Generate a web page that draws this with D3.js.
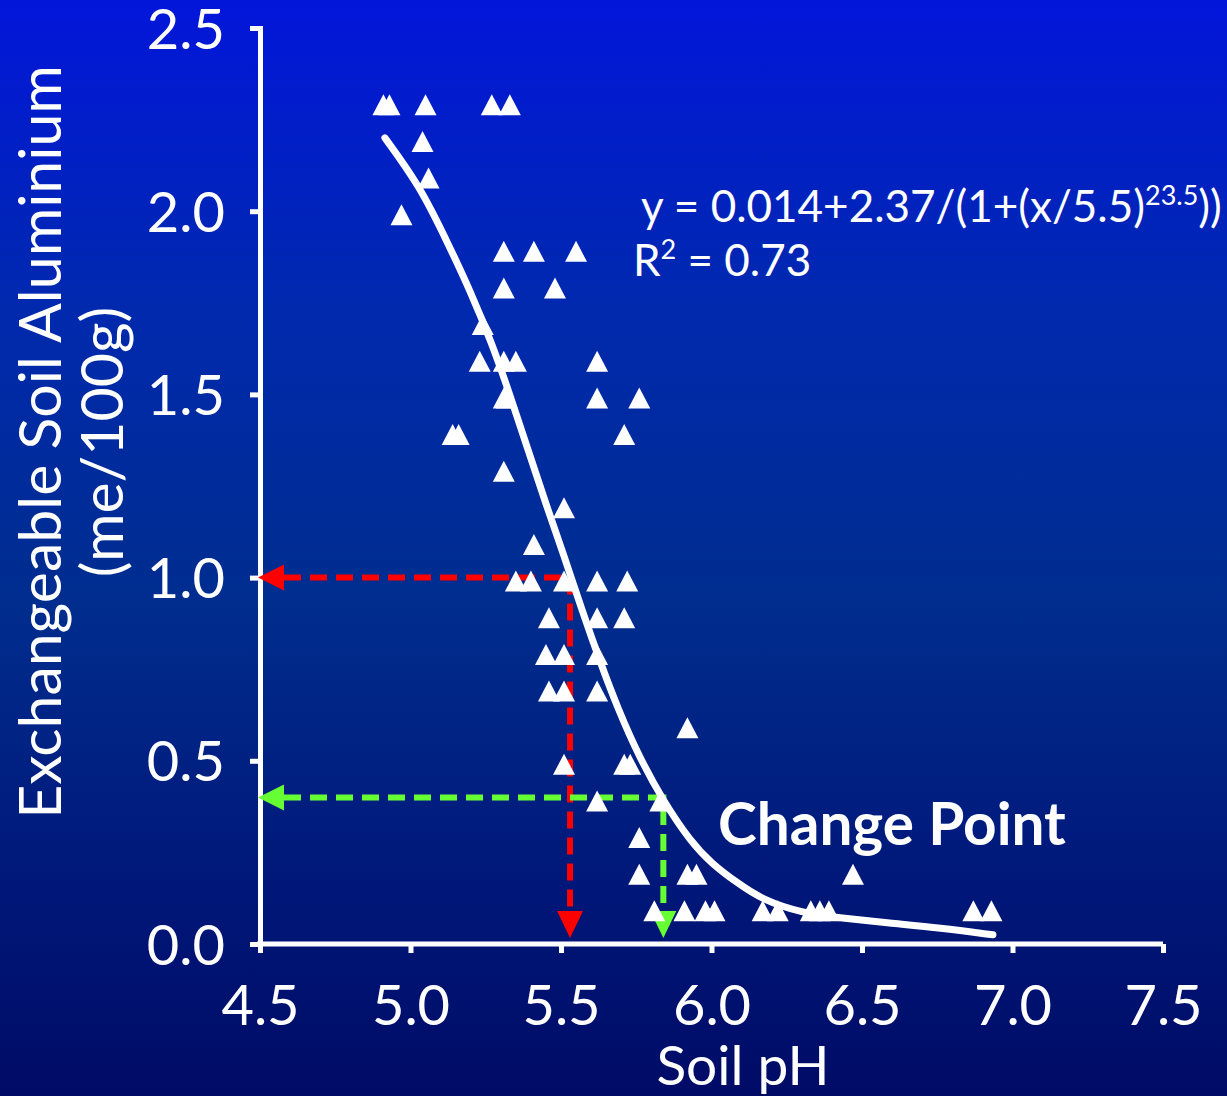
<!DOCTYPE html>
<html>
<head>
<meta charset="utf-8">
<script src="https://cdn.jsdelivr.net/npm/d3@7"></script>
<style>
  html, body { margin: 0; padding: 0; background: #001070; }
  svg { display: block; font-family: Lato, "Open Sans", sans-serif; }
</style>
</head>
<body>
<div id="graph"></div>
<script>
"use strict";

// measured points (soil pH vs exchangeable Al)
var soilPH = [
    4.91, 4.93, 5.05, 5.27, 5.33,
    5.04, 5.06, 4.97,
    5.31, 5.41, 5.55,
    5.31, 5.48,
    5.24,
    5.23, 5.31, 5.35, 5.62,
    5.31, 5.32, 5.62, 5.76,
    5.14, 5.16, 5.71,
    5.31, 5.51, 5.41,
    5.35, 5.40, 5.51, 5.62, 5.72,
    5.46, 5.62, 5.71,
    5.45, 5.51, 5.62,
    5.46, 5.51, 5.62,
    5.92,
    5.51, 5.71, 5.73,
    5.62, 5.83,
    5.76,
    5.76, 5.92, 5.95, 6.47,
    5.81, 5.91, 5.98, 6.01, 6.17, 6.22, 6.33, 6.36, 6.39, 6.87, 6.93
];
var soilAl = [
    2.3, 2.3, 2.3, 2.3, 2.3,
    2.2, 2.1, 2.0,
    1.9, 1.9, 1.9,
    1.8, 1.8,
    1.7,
    1.6, 1.6, 1.6, 1.6,
    1.5, 1.5, 1.5, 1.5,
    1.4, 1.4, 1.4,
    1.3, 1.2, 1.1,
    1.0, 1.0, 1.0, 1.0, 1.0,
    0.9, 0.9, 0.9,
    0.8, 0.8, 0.8,
    0.7, 0.7, 0.7,
    0.6,
    0.5, 0.5, 0.5,
    0.4, 0.4,
    0.3,
    0.2, 0.2, 0.2, 0.2,
    0.1, 0.1, 0.1, 0.1, 0.1, 0.1, 0.1, 0.1, 0.1, 0.1, 0.1
];

// fitted curve
var fitPH = [4.915, 5.03, 5.12, 5.20, 5.27, 5.33, 5.39, 5.45, 5.51, 5.57, 5.63, 5.69,
    5.76, 5.84, 5.93, 6.00, 6.08, 6.17, 6.30, 6.43, 6.59, 6.76, 6.935];
var fitAl = [2.20, 2.07, 1.92, 1.78, 1.64, 1.50, 1.35, 1.20, 1.06, 0.91, 0.77, 0.64,
    0.51, 0.39, 0.28, 0.22, 0.17, 0.12, 0.085, 0.071, 0.057, 0.044, 0.025];

var xTicks = [4.5, 5.0, 5.5, 6.0, 6.5, 7.0, 7.5];
var yTicks = [0.0, 0.5, 1.0, 1.5, 2.0, 2.5];

// reading guides: [pH, Al]
var redGuide = [5.53, 1.0];
var greenGuide = [5.84, 0.4];

var width = 1227, height = 1096;
var svg = d3.select("#graph").append("svg")
    .attr("width", width)
    .attr("height", height);

var defs = svg.append("defs");
var grad = defs.append("linearGradient")
    .attr("id", "bg")
    .attr("x1", 0).attr("y1", 0).attr("x2", 0).attr("y2", 1);
[[0, "#0216da"], [0.28, "#0029ae"], [0.55, "#002d8e"], [0.8, "#00187a"], [1, "#000b66"]]
    .forEach(function (s) {
        grad.append("stop").attr("offset", s[0]).attr("stop-color", s[1]);
    });

svg.append("rect")
    .attr("width", width)
    .attr("height", height)
    .attr("fill", "url(#bg)");

var x = d3.scaleLinear().domain([4.5, 7.5]).range([260, 1163]);
var y = d3.scaleLinear().domain([0, 2.5]).range([944, 28]);

// axes
var xAxis = svg.append("g")
    .attr("transform", "translate(0," + y(0) + ")")
    .call(d3.axisBottom(x).tickValues(xTicks).tickFormat(d3.format(".1f"))
        .tickSize(9).tickSizeOuter(0).tickPadding(32));

var yAxis = svg.append("g")
    .attr("transform", "translate(" + x(4.5) + ",0)")
    .call(d3.axisLeft(y).tickValues(yTicks).tickFormat(d3.format(".1f"))
        .tickSize(10).tickSizeOuter(10).tickPadding(25));

[xAxis, yAxis].forEach(function (a) {
    a.selectAll("path, line")
        .attr("stroke", "#fff")
        .attr("stroke-width", 5);
    a.selectAll("text")
        .attr("fill", "#fff")
        .style("font-size", "56px")
        .style("font-family", "Lato, sans-serif");
});
yAxis.selectAll("text").attr("dy", "0.36em");
xAxis.select(".domain").attr("d", "M" + (x(4.5) - 3) + ",0H" + x(7.5));

// axis titles
svg.append("text")
    .attr("x", 743)
    .attr("y", 1085)
    .attr("text-anchor", "middle")
    .attr("fill", "#fff")
    .style("font-size", "55px")
    .text("Soil pH");

var yTitle = svg.append("text")
    .attr("transform", "translate(61,442) rotate(-90)")
    .attr("text-anchor", "middle")
    .attr("fill", "#fff")
    .style("font-size", "59px");
yTitle.append("tspan").attr("x", 0).attr("y", 0).text("Exchangeable Soil Aluminium");
yTitle.append("tspan").attr("x", 0).attr("y", 62).text("(me/100g)");

// guide lines with arrowheads
function drawGuide(g, color) {
    var px = x(g[0]), py = y(g[1]);
    svg.append("path")
        .attr("d", "M" + (x(4.5) + 24) + "," + py + "H" + px + "V" + (y(0) - 30))
        .attr("fill", "none")
        .attr("stroke", color)
        .attr("stroke-width", 6)
        .attr("stroke-dasharray", "17,9");
    // left arrowhead
    svg.append("path")
        .attr("d", "M" + (x(4.5) - 2) + "," + py + "l26,-13v26z")
        .attr("fill", color);
    // down arrowhead
    svg.append("path")
        .attr("d", "M" + px + "," + (y(0) - 6) + "l-13,-27h26z")
        .attr("fill", color);
}
drawGuide(redGuide, "#ff0000");
drawGuide(greenGuide, "#66ff33");

// fitted curve
var fitLine = d3.line()
    .x(function (d, i) { return x(fitPH[i]); })
    .y(function (d, i) { return y(fitAl[i]); })
    .curve(d3.curveBasis);

svg.append("path")
    .attr("d", fitLine(fitPH))
    .attr("fill", "none")
    .attr("stroke", "#fff")
    .attr("stroke-width", 7)
    .attr("stroke-linecap", "round");

// triangle markers
svg.append("g")
    .selectAll("path")
    .data(soilPH)
    .enter().append("path")
    .attr("transform", function (d, i) {
        return "translate(" + x(d) + "," + y(soilAl[i]) + ")";
    })
    .attr("d", "M0,-7L11,14H-11Z")
    .attr("fill", "#fff");

// equation
var eq = svg.append("text")
    .attr("x", 641)
    .attr("y", 222)
    .attr("fill", "#fff")
    .style("font-size", "44px");
eq.append("tspan").text("y = 0.014+2.37/(1+(x/5.5)");
eq.append("tspan").attr("dy", -17).style("font-size", "27px").text("23.5");
eq.append("tspan").attr("dy", 17).text("))");

var r2 = svg.append("text")
    .attr("x", 633)
    .attr("y", 276)
    .attr("fill", "#fff")
    .style("font-size", "44px");
r2.append("tspan").text("R");
r2.append("tspan").attr("dy", -17).style("font-size", "27px").text("2");
r2.append("tspan").attr("dy", 17).text(" = 0.73");

svg.append("text")
    .attr("x", 718)
    .attr("y", 845)
    .attr("fill", "#fff")
    .style("font-size", "58.5px")
    .style("font-weight", "bold")
    .text("Change Point");
</script>
</body>
</html>
